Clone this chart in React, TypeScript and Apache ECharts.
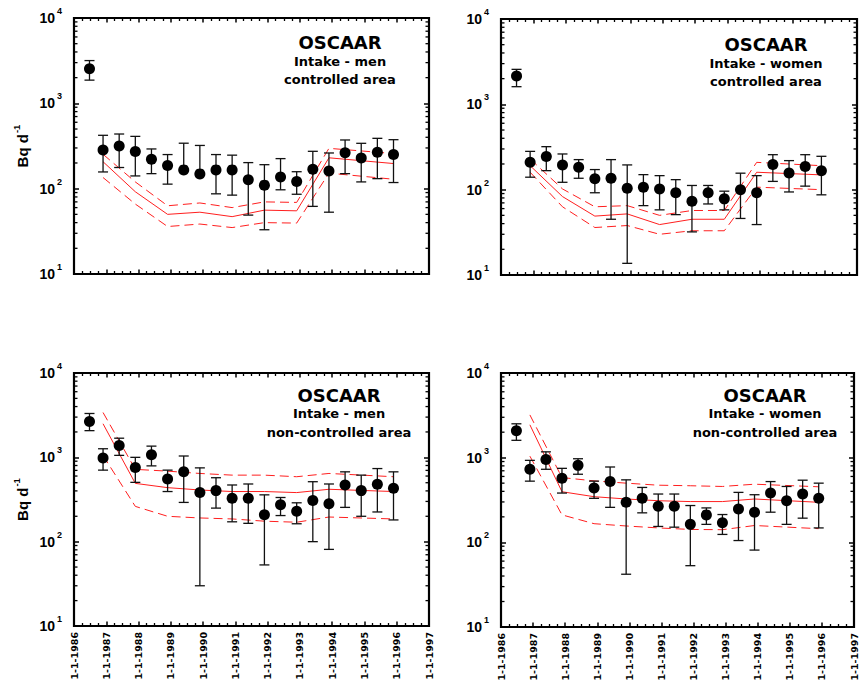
import React, { useEffect, useRef } from 'react';
import * as echarts from 'echarts';

// ---------- data ----------
const POINT_DATES = [1986.48, 1986.9, 1987.4, 1987.9, 1988.4, 1988.9, 1989.4, 1989.9, 1990.4, 1990.9, 1991.4, 1991.9, 1992.4, 1992.9, 1993.4, 1993.9, 1994.4, 1994.9, 1995.4, 1995.9];
const MODEL_DATES = [1986.9, 1987.9, 1988.9, 1989.9, 1990.9, 1991.9, 1992.9, 1993.9, 1995.9];
const X_MIN_YEAR = 1986;
const X_MAX_YEAR = 1997;
const Y_MIN = 10;
const Y_MAX = 10000;
const MINOR_Y_TICKS = [20, 30, 40, 50, 60, 70, 80, 90, 200, 300, 400, 500, 600, 700, 800, 900, 2000, 3000, 4000, 5000, 6000, 7000, 8000, 9000];

// men, controlled area
const MEN_CTRL_MEAN = [2535, 284, 316, 272, 221, 187, 166, 149, 166, 166, 127, 110, 137, 121, 169, 161, 264, 229, 267, 251];
const MEN_CTRL_HI = [3170, 422, 437, 410, 292, 251, 341, 321, 251, 247, 202, 191, 225, 158, 274, 262, 372, 340, 389, 375];
const MEN_CTRL_LO = [1870, 157, 177, 141, 150, 113, 166, 149, 87, 84, 49, 33, 97, 86, 62, 53, 150, 120, 131, 118];
const MEN_CTRL_MODEL = [207, 92, 50, 53, 47, 56, 55, 230, 197];
const MEN_CTRL_MODEL_UP = [253, 120, 63, 68, 60, 70, 69, 297, 258];
const MEN_CTRL_MODEL_LO = [135, 66, 36, 38.5, 35, 40, 39.5, 152, 129];

// women, controlled area
const WOMEN_CTRL_MEAN = [2147, 209, 244, 195, 183, 134, 136, 104, 107, 102, 92, 73, 92, 78, 100, 92, 197, 157, 187, 167];
const WOMEN_CTRL_HI = [2570, 281, 319, 262, 225, 172, 225, 195, 150, 146, 131, 112, 112, 96, 156, 146, 257, 219, 257, 246];
const WOMEN_CTRL_LO = [1610, 140, 167, 122, 136, 92, 45, 13.7, 65, 58, 51, 32, 68, 58, 46, 39, 125, 94, 110, 87];
const WOMEN_CTRL_MODEL = [191, 83, 49, 52, 39, 45, 45, 160, 149];
const WOMEN_CTRL_MODEL_UP = [229, 102, 63, 65, 50, 57, 57, 209, 191];
const WOMEN_CTRL_MODEL_LO = [160, 63, 36, 38, 30, 33, 33, 107, 100];

// men, non-controlled area
const MEN_NONCTRL_MEAN = [2667, 982, 1383, 757, 1075, 552, 673, 382, 403, 328, 328, 209, 274, 229, 308, 281, 470, 403, 479, 430];
const MEN_NONCTRL_HI = [3311, 1264, 1686, 1000, 1358, 705, 1037, 750, 573, 470, 483, 359, 334, 289, 514, 483, 673, 615, 736, 673];
const MEN_NONCTRL_LO = [2072, 705, 1055, 505, 792, 393, 292, 30, 250, 172, 165, 53, 204, 163, 100, 81, 255, 200, 225, 181];
const MEN_NONCTRL_MODEL = [2500, 491, 437, 410, 393, 393, 382, 418, 393];
const MEN_NONCTRL_MODEL_UP = [3400, 720, 686, 644, 615, 615, 589, 644, 589];
const MEN_NONCTRL_MODEL_LO = [1050, 262, 200, 191, 186, 175, 170, 196, 186];

// women, non-controlled area
const WOMEN_NONCTRL_MEAN = [2081, 729, 953, 572, 811, 437, 522, 297, 331, 267, 267, 163, 211, 170, 248, 227, 382, 310, 372, 331];
const WOMEN_NONCTRL_HI = [2512, 929, 1172, 748, 971, 528, 776, 547, 445, 372, 372, 272, 255, 213, 389, 365, 522, 457, 542, 500];
const WOMEN_NONCTRL_LO = [1603, 528, 729, 382, 637, 331, 259, 42, 223, 154, 151, 53, 163, 124, 105, 81, 227, 163, 193, 148];
const WOMEN_NONCTRL_MODEL = [2445, 396, 346, 325, 310, 303, 303, 325, 297];
const WOMEN_NONCTRL_MODEL_UP = [3199, 582, 532, 500, 473, 466, 457, 486, 453];
const WOMEN_NONCTRL_MODEL_LO = [1042, 211, 166, 156, 148, 142, 141, 158, 145];

const TITLE = 'OSCAAR';
const SUBTITLE_MEN = 'Intake - men';
const SUBTITLE_WOMEN = 'Intake - women';
const AREA_CTRL = 'controlled area';
const AREA_NONCTRL = 'non-controlled area';
const Y_NAME = 'Bq d';
const Y_NAME_SUP = '-1';
const X_LABEL_PREFIX = '1-1-';

const PANELS = [
  { mean: MEN_CTRL_MEAN, hi: MEN_CTRL_HI, lo: MEN_CTRL_LO, model: MEN_CTRL_MODEL, up: MEN_CTRL_MODEL_UP, down: MEN_CTRL_MODEL_LO, sub: SUBTITLE_MEN, area: AREA_CTRL },
  { mean: WOMEN_CTRL_MEAN, hi: WOMEN_CTRL_HI, lo: WOMEN_CTRL_LO, model: WOMEN_CTRL_MODEL, up: WOMEN_CTRL_MODEL_UP, down: WOMEN_CTRL_MODEL_LO, sub: SUBTITLE_WOMEN, area: AREA_CTRL },
  { mean: MEN_NONCTRL_MEAN, hi: MEN_NONCTRL_HI, lo: MEN_NONCTRL_LO, model: MEN_NONCTRL_MODEL, up: MEN_NONCTRL_MODEL_UP, down: MEN_NONCTRL_MODEL_LO, sub: SUBTITLE_MEN, area: AREA_NONCTRL },
  { mean: WOMEN_NONCTRL_MEAN, hi: WOMEN_NONCTRL_HI, lo: WOMEN_NONCTRL_LO, model: WOMEN_NONCTRL_MODEL, up: WOMEN_NONCTRL_MODEL_UP, down: WOMEN_NONCTRL_MODEL_LO, sub: SUBTITLE_WOMEN, area: AREA_NONCTRL },
];

// ---------- layout ----------
const GRIDS = [
  { left: 74, top: 18, width: 355, height: 256 },
  { left: 501, top: 19, width: 356, height: 256 },
  { left: 74, top: 373, width: 355, height: 253 },
  { left: 501, top: 373, width: 356, height: 254 },
];
const TITLE_POS = [
  { x: 340, y: [42, 61, 79] },
  { x: 766, y: [44, 63, 81] },
  { x: 339, y: [395, 413, 432] },
  { x: 765, y: [395, 413, 432] },
];

const RED = '#ff1f1f';
const LABEL_FONT = '"Liberation Sans", Arial, Helvetica, sans-serif';
const TITLE_FONT = '"DejaVu Sans", Verdana, sans-serif';

function buildOption() {
  const grid: any[] = [];
  const xAxis: any[] = [];
  const yAxis: any[] = [];
  const series: any[] = [];
  const graphic: any[] = [];

  PANELS.forEach((p, i) => {
    const g = GRIDS[i];
    const isBottom = i >= 2;
    const isLeft = i % 2 === 0;
    grid.push({ ...g, show: true, borderColor: '#000', borderWidth: 2.2, backgroundColor: 'transparent' });

    const xBase = {
      type: 'value',
      gridIndex: i,
      min: X_MIN_YEAR,
      max: X_MAX_YEAR,
      interval: 1,
      axisLine: { show: false },
      axisTick: { show: true, inside: true, length: 4.5, lineStyle: { color: '#000', width: 1.5 } },
      minorTick: { show: true, splitNumber: 4, length: 3, lineStyle: { color: '#000', width: 1.3 } },
      splitLine: { show: false },
      minorSplitLine: { show: false },
    };
    xAxis.push({
      ...xBase,
      position: 'bottom',
      axisLabel: isBottom
        ? {
            show: true,
            rotate: 90,
            margin: 6,
            showMinLabel: true,
            showMaxLabel: true,
            formatter: (v: number) => X_LABEL_PREFIX + Math.round(v),
            fontFamily: TITLE_FONT,
            fontWeight: 'bold',
            fontSize: 9.5,
            color: '#000',
          }
        : { show: false },
    });
    xAxis.push({ ...xBase, position: 'top', axisLabel: { show: false } });

    const yBase = {
      type: 'log',
      logBase: 10,
      gridIndex: i,
      min: Y_MIN,
      max: Y_MAX,
      axisLine: { show: false },
      axisTick: { show: true, inside: true, length: 5, lineStyle: { color: '#000', width: 1.5 } },
      splitLine: { show: false },
    };
    yAxis.push({
      ...yBase,
      position: 'left',
      axisLabel: {
        show: true,
        margin: 12,
        formatter: (v: number) => `{b|10}{s|${Math.round(Math.log10(v))}}`,
        rich: {
          b: { fontFamily: LABEL_FONT, fontWeight: 'bold', fontSize: 14, lineHeight: 14, color: '#000' },
          s: { fontFamily: LABEL_FONT, fontWeight: 'bold', fontSize: 9, lineHeight: 9, color: '#000', padding: [0, 0, 14, 2] },
        },
      },
      name: isLeft ? `{b|${Y_NAME}}{s|${Y_NAME_SUP}}` : '',
      nameLocation: 'middle',
      nameRotate: 90,
      nameGap: 44,
      nameTextStyle: {
        rich: {
          b: { fontFamily: LABEL_FONT, fontWeight: 'bold', fontSize: 15, lineHeight: 15, color: '#000' },
          s: { fontFamily: LABEL_FONT, fontWeight: 'bold', fontSize: 9.5, lineHeight: 9.5, color: '#000', padding: [0, 0, 13, 1] },
        },
      },
    });
    yAxis.push({ ...yBase, position: 'right', axisLabel: { show: false } });

    const xi = i * 2;
    const yi = i * 2;

    // minor log ticks (2..9 per decade) on both vertical sides
    series.push({
      type: 'custom',
      xAxisIndex: xi,
      yAxisIndex: yi,
      silent: true,
      encode: { x: 0, y: 1 },
      data: MINOR_Y_TICKS.map((v) => [X_MIN_YEAR, v]),
      renderItem: (_params: any, api: any) => {
        const v = api.value(1);
        const l = api.coord([X_MIN_YEAR, v]);
        const r = api.coord([X_MAX_YEAR, v]);
        const st = { stroke: '#000', lineWidth: 1.3 };
        return {
          type: 'group',
          children: [
            { type: 'line', shape: { x1: l[0], y1: l[1], x2: l[0] + 3.5, y2: l[1] }, style: st },
            { type: 'line', shape: { x1: r[0] - 3.5, y1: r[1], x2: r[0], y2: r[1] }, style: st },
          ],
        };
      },
    });

    // model lines
    const mk = (vals: number[], dashed: boolean) => ({
      type: 'line',
      xAxisIndex: xi,
      yAxisIndex: yi,
      symbol: 'none',
      silent: true,
      data: MODEL_DATES.map((d, k) => [d, vals[k]]),
      lineStyle: { color: RED, width: 1, type: dashed ? [9, 5] : 'solid' },
      z: 3,
    });
    series.push(mk(p.model, false), mk(p.up, true), mk(p.down, true));

    // error bars
    series.push({
      type: 'custom',
      xAxisIndex: xi,
      yAxisIndex: yi,
      silent: true,
      encode: { x: 0, y: [1, 2] },
      data: POINT_DATES.map((d, k) => [d, p.lo[k], p.hi[k]]),
      renderItem: (_params: any, api: any) => {
        const x = api.value(0);
        const top = api.coord([x, api.value(2)]);
        const bot = api.coord([x, api.value(1)]);
        const w = 5;
        const st = { stroke: '#111', lineWidth: 1.3 };
        return {
          type: 'group',
          children: [
            { type: 'line', shape: { x1: top[0], y1: top[1], x2: bot[0], y2: bot[1] }, style: st },
            { type: 'line', shape: { x1: top[0] - w, y1: top[1], x2: top[0] + w, y2: top[1] }, style: st },
            { type: 'line', shape: { x1: bot[0] - w, y1: bot[1], x2: bot[0] + w, y2: bot[1] }, style: st },
          ],
        };
      },
      z: 4,
    });

    // points
    series.push({
      type: 'scatter',
      xAxisIndex: xi,
      yAxisIndex: yi,
      symbol: 'circle',
      symbolSize: 11,
      silent: true,
      itemStyle: { color: '#000', opacity: 1 },
      data: POINT_DATES.map((d, k) => [d, p.mean[k]]),
      z: 5,
    });

    // titles
    const tp = TITLE_POS[i];
    const lines = [
      { text: TITLE, size: 18 },
      { text: p.sub, size: 13 },
      { text: p.area, size: 13 },
    ];
    lines.forEach((ln, k) => {
      graphic.push({
        type: 'text',
        x: tp.x,
        y: tp.y[k],
        silent: true,
        style: {
          text: ln.text,
          fill: '#000',
          fontFamily: TITLE_FONT,
          fontWeight: 'bold',
          fontSize: ln.size,
          align: 'center',
          verticalAlign: 'middle',
          textAlign: 'center',
          textVerticalAlign: 'middle',
        },
      });
    });
  });

  return {
    animation: false,
    backgroundColor: '#fff',
    grid,
    xAxis,
    yAxis,
    series,
    graphic,
  };
}

export default function App() {
  const ref = useRef<HTMLDivElement>(null);
  useEffect(() => {
    if (!ref.current) return;
    const chart = echarts.init(ref.current, undefined, { renderer: 'svg' });
    chart.setOption(buildOption() as any);
    return () => chart.dispose();
  }, []);
  return (
    <div
      ref={ref}
      style={{ position: 'absolute', left: 0, top: 0, width: 859, height: 686, background: '#fff' }}
    />
  );
}
